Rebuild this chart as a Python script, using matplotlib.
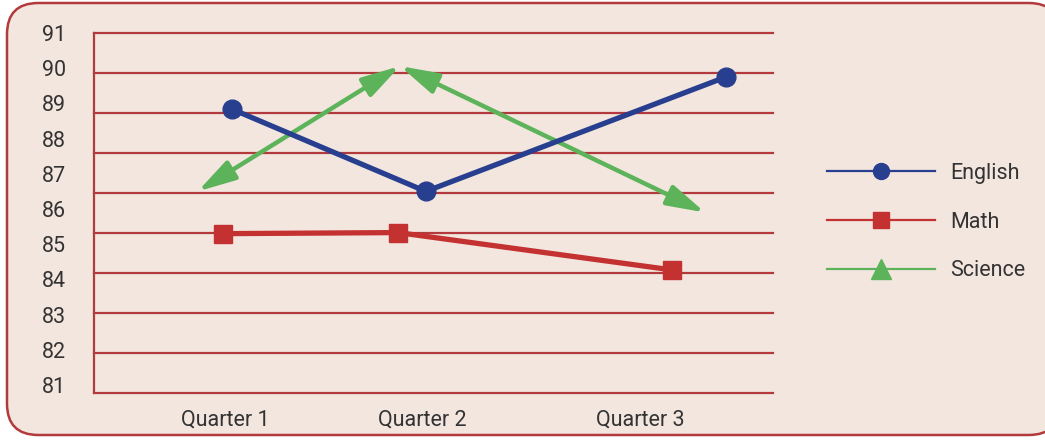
import numpy as np
import matplotlib
matplotlib.use("Agg")
import matplotlib.pyplot as plt
from matplotlib.lines import Line2D
from matplotlib.patches import FancyBboxPatch

# ---- data ----
quarters = ["Quarter 1", "Quarter 2", "Quarter 3"]
quarter_pos = [1.0, 2.0, 3.107]
y_labels = [81, 82, 83, 84, 85, 86, 87, 88, 89, 90, 91]

english_x = [1.034, 2.019, 3.542]
english_y = [88.84, 86.5, 89.75]
math_x = [0.99, 1.878, 3.268]
math_y = [85.3, 85.33, 84.27]
science_x = [0.861, 1.888, 3.437]
science_y = [86.5, 90.06, 85.9]

# ---- style ----
BG = "#F3E6DF"
GRID = "#B23A3C"
BLUE = "#283E8E"
RED = "#C43131"
GREEN = "#5DB35A"
TXT = "#333333"
FONT = "Roboto"

fig = plt.figure(figsize=(10.45, 4.4), dpi=100)
fig.patch.set_facecolor("white")

W, H = 1045, 440
frame = FancyBboxPatch((7 / W, 5 / H), (1060 - 7) / W, (437 - 5) / H,
                       boxstyle="round,pad=0,rounding_size=0.03",
                       transform=fig.transFigure, facecolor=BG,
                       edgecolor=GRID, linewidth=1.8, zorder=-10,
                       mutation_aspect=W / H)
fig.patches.append(frame)

ax = fig.add_axes([93.7 / W, 1 - 393 / H, (773.3 - 93.7) / W, (393 - 33) / H])
ax.set_facecolor("none")
ax.set_zorder(1)

ax.set_xlim(0.333, 3.783)
ax.set_ylim(80.773, 91)

# horizontal rules (evenly spaced across the axis height)
for yv in np.linspace(91, 80.773, 10):
    ax.axhline(yv, color=GRID, lw=1.6, zorder=1, clip_on=False)

for s in ["top", "right", "bottom"]:
    ax.spines[s].set_visible(False)
ax.spines["left"].set_color(GRID)
ax.spines["left"].set_linewidth(1.6)

ax.set_yticks(y_labels)
ax.set_yticklabels([str(v) for v in y_labels], fontfamily=FONT,
                   fontsize=15.5, color=TXT)
ax.set_xticks(quarter_pos)
ax.set_xticklabels(quarters, fontfamily=FONT, fontsize=15.5, color=TXT)
ax.tick_params(axis="y", length=0, pad=20)
ax.tick_params(axis="x", length=0, pad=12)

# English
ax.plot(english_x, english_y, color=BLUE, lw=3.8, marker="o",
        markersize=13.5, zorder=4, solid_capstyle="round")
# Math
ax.plot(math_x, math_y, color=RED, lw=3.8, marker="s",
        markersize=13.5, zorder=4)
# Science: segments with arrow heads at both ends
for i in range(len(science_x) - 1):
    ax.annotate("", xy=(science_x[i], science_y[i]),
                xytext=(science_x[i + 1], science_y[i + 1]),
                arrowprops=dict(arrowstyle="<|-|>,head_length=1.15,head_width=0.32",
                                mutation_scale=20, color=GREEN, lw=3.2,
                                shrinkA=0, shrinkB=0),
                zorder=3)

handles = [
    Line2D([], [], color=BLUE, lw=1.6, marker="o", markersize=11.5),
    Line2D([], [], color=RED, lw=1.6, marker="s", markersize=11.5),
    Line2D([], [], color=GREEN, lw=1.6, marker="^", markersize=14),
]
leg = fig.legend(handles, ["English", "Math", "Science"],
                 loc="center left", bbox_to_anchor=(808 / W, 1 - 222 / H),
                 frameon=False, handlelength=5.0, handletextpad=0.7,
                 labelspacing=1.3,
                 prop={"family": FONT, "size": 15.5})
for t in leg.get_texts():
    t.set_color(TXT)

fig.savefig("out.png", dpi=100, facecolor="white")
